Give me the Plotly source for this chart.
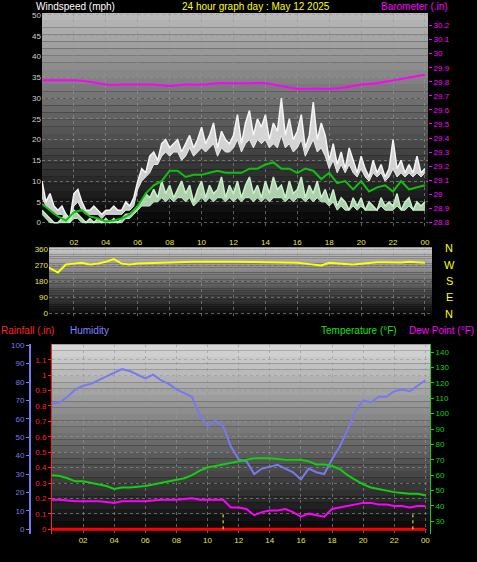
import plotly.graph_objects as go

# ---------- data ----------
q_hours = [i * 0.25 for i in range(97)]
gust = [10,5,7,4, 3,4,2,1, 7,8,5,3, 3,4,3,2, 3,3,4,3, 3,5,4,6, 10,13,12,16, 17,15,19,20,
        18,19,20,17, 19,21,18,20, 23,19,21,24, 18,22,20,19, 21,26,19,24, 27,21,25,23,
        26,20,24,22, 30,21,25,20, 22,26,18,21, 29,20,24,21, 15,19,14,17, 13,18,15,12,
        16,13,11,15, 12,14,11,13, 20,13,15,12, 14,12,16,12, 13]
gust_low = [6,4,3,2, 2,2,1,0, 4,5,3,2, 2,2,2,1, 2,2,2,2, 2,3,3,4, 8,10,11,12, 14,14,16,17,
            16,17,17,15, 16,18,16,17, 18,17,18,19, 16,18,17,17, 18,20,17,19, 20,18,20,19,
            20,18,19,18, 21,18,19,17, 18,20,16,18, 20,17,18,16, 13,15,12,14, 12,14,12,11,
            13,11,10,12, 11,12,10,11, 13,11,12,11, 12,11,12,11, 12]
wind = [3,2,1,0, 0,1,2,0, 3,2,1,0, 1,0,1,0, 1,0,1,0, 1,2,2,3, 4,5,7,6, 8,6,10,7,
        9,6,8,10, 7,9,5,8, 10,6,9,7, 8,11,6,9, 7,10,6,9, 11,7,9,6, 10,7,11,8,
        9,6,10,7, 8,11,6,9, 7,10,6,8, 5,8,4,6, 5,3,6,4, 6,3,5,4, 3,6,4,5, 4,7,3,5, 6,3,5,4, 5]
wind_low = [2,1,0,0, 0,0,0,0, 1,1,0,0, 0,0,0,0, 0,0,0,0, 0,1,1,2, 3,4,4,4, 5,5,6,5,
            6,5,6,6, 5,6,4,5, 6,5,6,5, 6,6,5,6, 5,6,5,6, 6,5,6,5, 6,5,6,6,
            6,5,6,5, 6,6,5,6, 5,6,5,5, 4,5,3,4, 3,3,4,3, 4,3,3,3, 3,4,3,3, 3,4,3,3, 4,3,3,3, 3]
h_hours = [i * 0.5 for i in range(49)]
avg_wind = [4.5,3,1.5,0.5,2.5,3,1.5,1,0.3,0.5,1,2,4,7,9,10,12.5,12.5,11,11.5,11.5,12,12.5,12,
            12,12,13,13,14,14.5,13,13,12,13,12.5,10.5,12,9.5,10,8,10,7.5,8.5,9,7.5,10,8,8.5,9]
hours = list(range(25))
baro = [29.81,29.81,29.81,29.80,29.78,29.78,29.78,29.78,29.77,29.78,29.78,29.79,29.79,
        29.79,29.79,29.77,29.75,29.75,29.75,29.76,29.78,29.79,29.81,29.83,29.85]
wdir = [265,255,230,275,280,285,275,280,290,305,280,275,280,282,283,285,288,288,289,290,
        290,289,290,291,291,290,292,290,290,288,287,285,285,280,275,270,285,280,278,275,
        280,285,288,287,285,286,290,288,285]
humidity = [68,69,72,76,78,79,81,83,85,87,86,84,82,84,81,79,76,74,72,62,56,59,56,45,38,37,
            30,33,34,35,33,31,27,33,31,30,38,45,54,64,70,69,72,72,75,76,75,78,81]
temperature = [60,59.5,58,56,56,55,54,53,51,52,52,52.5,53,54,55,56,57,58,60,63,65,66,67,68,
               69,70,71,71,71,70.5,70,70,70,69,67,67,66,64,60,57,54,52,51,50,49,48.5,48,48,47]
dewpoint = [44,44,43.5,43,43,43,43,42.5,42,43,43,43,43,43.5,44,44,44,44.5,45,44,44,44,44,39,
            39,38,34,36,37,37,38,36,33,35,34,33,38,39,40,41,42,42,41,41,40,40,39,40,40]
rainfall = [0] * 25
rain_marks = [11.0, 23.2]

# ---------- layout geometry (pixels) ----------
W, H = 477, 562
def py(y): return 1 - y / H
def px(x): return x / W

P1 = (42, 428, 10, 226)
P2 = (49, 432, 247, 316)
P3 = (52, 430, 345, 537)

fig = go.Figure()

shapes = []
def gradient(p, top, bottom, n=30):
    x0, x1, y0, y1 = p
    for i in range(n):
        t = i / (n - 1)
        c = int(top + (bottom - top) * t)
        ya = y0 + (y1 - y0) * i / n
        yb = y0 + (y1 - y0) * (i + 1) / n
        shapes.append(dict(type="rect", xref="paper", yref="paper", layer="below",
                           x0=px(x0), x1=px(x1), y0=py(yb), y1=py(ya),
                           fillcolor=f"rgb({c},{c},{c})", line_width=0))
gradient(P1, 185, 5)
gradient(P2, 200, 10)
gradient(P3, 215, 5)
for m in rain_marks:
    shapes.append(dict(type="line", xref="x3", yref="y5", x0=m, x1=m, y0=0, y1=0.1,
                       line=dict(color="#ffff40", width=1, dash="dot")))

# ---------- traces ----------
fig.add_trace(go.Scatter(x=q_hours, y=gust_low, xaxis="x", yaxis="y", mode="lines",
                         line=dict(color="#e8e8e8", width=1)))
fig.add_trace(go.Scatter(x=q_hours, y=gust, xaxis="x", yaxis="y", mode="lines", fill="tonexty",
                         fillcolor="rgba(235,235,235,0.85)", line=dict(color="#f4f4f4", width=1.5)))
fig.add_trace(go.Scatter(x=q_hours, y=wind_low, xaxis="x", yaxis="y", mode="lines",
                         line=dict(color="#c8f0c8", width=1)))
fig.add_trace(go.Scatter(x=q_hours, y=wind, xaxis="x", yaxis="y", mode="lines", fill="tonexty",
                         fillcolor="rgba(200,240,200,0.85)", line=dict(color="#c8f0c8", width=1.5)))
fig.add_trace(go.Scatter(x=h_hours, y=avg_wind, xaxis="x", yaxis="y", mode="lines",
                         line=dict(color="#10c010", width=2)))
fig.add_trace(go.Scatter(x=hours, y=baro, xaxis="x", yaxis="y2", mode="lines",
                         line=dict(color="#ff00ff", width=2, shape="spline")))
fig.add_trace(go.Scatter(x=h_hours, y=wdir, xaxis="x2", yaxis="y3", mode="lines",
                         line=dict(color="#ffff00", width=2)))
fig.add_trace(go.Scatter(x=h_hours, y=humidity, xaxis="x3", yaxis="y4", mode="lines",
                         line=dict(color="#7878f0", width=2)))
fig.add_trace(go.Scatter(x=hours, y=rainfall, xaxis="x3", yaxis="y5", mode="lines",
                         line=dict(color="#ff0000", width=3)))
fig.add_trace(go.Scatter(x=h_hours, y=temperature, xaxis="x3", yaxis="y6", mode="lines",
                         line=dict(color="#10d010", width=2)))
fig.add_trace(go.Scatter(x=h_hours, y=dewpoint, xaxis="x3", yaxis="y6", mode="lines",
                         line=dict(color="#ff00ff", width=2)))

tick_x = [2, 4, 6, 8, 10, 12, 14, 16, 18, 20, 22, 24]
tick_xt = ["02", "04", "06", "08", "10", "12", "14", "16", "18", "20", "22", "00"]
grid = dict(showgrid=True, gridcolor="rgba(150,150,150,0.6)", griddash="dot", gridwidth=1)
FAM = "Liberation Sans"
fnt = lambda c: dict(family=FAM, size=8, color=c)

xcommon = dict(tickvals=tick_x, ticktext=tick_xt, tickfont=fnt("#e8e840"), zeroline=False,
               showline=False, ticks="", **grid)

layout = dict(
    width=W, height=H, margin=dict(l=0, r=0, t=0, b=0),
    paper_bgcolor="black", plot_bgcolor="rgba(0,0,0,0)", showlegend=False,
    shapes=shapes,
    xaxis=dict(domain=[px(P1[0]), px(P1[1])], range=[0, 24.19], anchor="y",
               showticklabels=False, **{k: v for k, v in xcommon.items() if k != "tickfont"}),
    yaxis=dict(domain=[py(P1[3]), py(P1[2])], range=[-0.95, 50.5], dtick=5, anchor="x",
               tickfont=fnt("#d0d0d0"), zeroline=False, ticks="", **grid),
    yaxis2=dict(overlaying="y", side="right", anchor="x", range=[28.77, 30.29],
                tickvals=[28.8,28.9,29,29.1,29.2,29.3,29.4,29.5,29.6,29.7,29.8,29.9,30,30.1,30.2],
                ticktext=["28.8","28.9","29","29.1","29.2","29.3","29.4","29.5","29.6","29.7",
                          "29.8","29.9","30","30.1","30.2"],
                tickfont=fnt("#ff00ff"), showgrid=False, zeroline=False,
                ticks="outside", ticklen=3, tickcolor="#ff00ff"),
    xaxis2=dict(domain=[px(P2[0]), px(P2[1])], range=[0.44, 24.44], anchor="y3",
                side="top", **xcommon),
    yaxis3=dict(domain=[py(P2[3]), py(P2[2])], range=[-11, 371], tickvals=[0, 90, 180, 270, 360],
                anchor="x2", tickfont=fnt("#e8e840"), zeroline=False, ticks="", **grid),
    xaxis3=dict(domain=[px(P3[0]), px(P3[1])], range=[0, 24.3], anchor="y5", **xcommon),
    yaxis4=dict(domain=[py(P3[3]), py(P3[2])], range=[-2.7, 100.5], dtick=10, anchor="free",
                position=px(30), tickfont=fnt("#7878f0"), showgrid=False, zeroline=False,
                showline=True, linecolor="#7878f0", linewidth=2, ticks="outside", ticklen=3,
                tickcolor="#7878f0"),
    yaxis5=dict(overlaying="y4", anchor="x3", range=[-0.032, 1.2],
                tickvals=[0,0.1,0.2,0.3,0.4,0.5,0.6,0.7,0.8,0.9,1,1.1],
                ticktext=["0","0.1","0.2","0.3","0.4","0.5","0.6","0.7","0.8","0.9","1","1.1"],
                tickfont=fnt("#ff2020"), zeroline=False, ticks="outside", ticklen=3,
                tickcolor="#ff2020", showline=True, linecolor="#ff2020", **grid),
    yaxis6=dict(overlaying="y4", side="right", anchor="x3", range=[21.6, 145.1],
                tickvals=[30,40,50,60,70,80,90,100,110,120,130,140],
                tickfont=fnt("#10d010"), showgrid=False, zeroline=False, ticks="outside",
                ticklen=3, tickcolor="#10d010", showline=True, linecolor="#10d010"),
)
fig.update_layout(**layout)

def ann(text, x, y, color, xanchor="left", size=10):
    fig.add_annotation(text=text, x=px(x), y=py(y), xref="paper", yref="paper", showarrow=False,
                       xanchor=xanchor, yanchor="middle",
                       font=dict(family=FAM, size=size, color=color))

ann("Windspeed (mph)", 34, 4, "#ffffff")
ann("24 hour graph day : May 12 2025", 256, 4, "#ffff00", "center")
ann("Barometer (.in)", 450, 4, "#ff00ff", "right")
for i, l in enumerate(["N", "W", "S", "E", "N"]):
    ann(l, 449, 248 + i * 16.5, "#ffff00", "center", 11)
ann("Rainfall (.in)", -1, 331, "#ff2020")
ann("Humidity", 68, 331, "#8080ff")
ann("Temperature (°F)", 319, 331, "#10e010")
ann("Dew Point (°F)", 476, 331, "#ff00ff", "right")

fig.write_html("out.html", config={"displayModeBar": False},
               post_script="document.body.style.margin='0';document.body.style.overflow='hidden';document.body.style.background='black';")
